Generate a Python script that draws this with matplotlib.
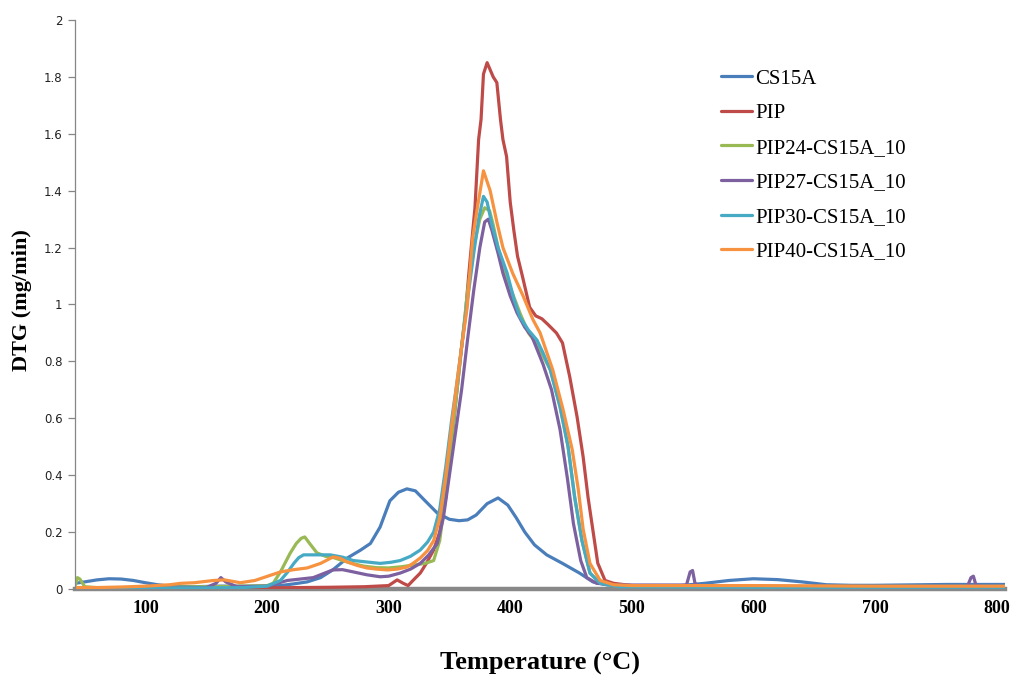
import matplotlib
matplotlib.use("Agg")
import matplotlib.pyplot as plt

# DTG curves (temperature in °C, DTG in mg/min)
cs15a_t = [42, 50, 60, 70, 80, 90, 100, 110, 120, 140, 160, 180, 200, 211, 222, 233, 244, 254, 266,
           277, 285, 293, 301, 308, 315, 322, 330, 340, 350, 358, 365, 372, 381, 390, 398, 405, 412,
           420, 430, 443, 457, 468, 480, 490, 500, 520, 540, 560, 580, 600, 620, 640, 660, 680, 700,
           720, 740, 760, 780, 800, 807]
cs15a_v = [0.02, 0.025, 0.032, 0.036, 0.035, 0.03, 0.022, 0.015, 0.01, 0.008, 0.01, 0.01, 0.01, 0.012,
           0.018, 0.025, 0.04, 0.067, 0.109, 0.137, 0.16, 0.218, 0.31, 0.34, 0.352, 0.345, 0.31, 0.267,
           0.245, 0.24, 0.243, 0.26, 0.30, 0.32, 0.295, 0.25, 0.2, 0.155, 0.12, 0.09, 0.056, 0.025,
           0.014, 0.012, 0.012, 0.012, 0.012, 0.02, 0.03, 0.036, 0.033, 0.025, 0.015, 0.013, 0.013,
           0.014, 0.015, 0.016, 0.016, 0.016, 0.016]

pip_t = [42, 60, 100, 150, 200, 250, 280, 300, 307, 312, 316, 320, 326, 331, 337, 342, 347, 352, 356,
         360, 363, 366, 369, 371, 374, 376, 378, 381, 383, 386, 389, 392, 394, 397, 400, 403, 406, 410,
         416, 421, 426, 431, 438, 443, 449, 455, 460, 464, 468, 472, 478, 485, 500, 550, 600, 700, 807]
pip_v = [0.003, 0.003, 0.003, 0.005, 0.004, 0.006, 0.008, 0.012, 0.032, 0.02, 0.012, 0.03, 0.056, 0.09,
         0.137, 0.2, 0.32, 0.52, 0.69, 0.85, 0.96, 1.11, 1.25, 1.34, 1.58, 1.65, 1.81, 1.85, 1.83, 1.80,
         1.78, 1.65, 1.58, 1.52, 1.36, 1.26, 1.17, 1.10, 0.99, 0.96, 0.95, 0.93, 0.90, 0.865, 0.745,
         0.605, 0.464, 0.323, 0.207, 0.091, 0.03, 0.02, 0.012, 0.01, 0.008, 0.008, 0.008]

pip24_t = [42, 44, 46, 50, 60, 100, 150, 180, 200, 205, 211, 219, 224, 228, 231, 235, 241, 248, 255,
           262, 270, 280, 290, 300, 310, 320, 330, 337, 342, 346, 350, 355, 360, 365, 370, 375, 379,
           383, 386, 390, 395, 400, 408, 415, 422, 433, 441, 447.6, 453, 459, 465.6, 474, 485, 500,
           600, 700, 807]
pip24_v = [0.01, 0.04, 0.035, 0.008, 0.005, 0.005, 0.008, 0.01, 0.012, 0.02, 0.06, 0.126, 0.16, 0.178,
           0.183, 0.16, 0.127, 0.115, 0.11, 0.1, 0.09, 0.08, 0.075, 0.074, 0.078, 0.084, 0.09, 0.1,
           0.17, 0.3, 0.45, 0.65, 0.85, 1.05, 1.2, 1.3, 1.34, 1.33, 1.28, 1.2, 1.12, 1.06, 0.97, 0.9,
           0.86, 0.77, 0.64, 0.5, 0.323, 0.17, 0.056, 0.02, 0.012, 0.01, 0.008, 0.008, 0.008]

pip27_t = [42, 100, 150, 158, 162, 166, 175, 200, 216.7, 238, 254, 262, 271, 282, 293, 300, 309.5, 318,
           326, 333, 340, 345, 350, 355, 360, 365, 370, 375, 379, 382, 385, 390, 394, 400, 405.7, 412,
           418, 427, 434, 441, 447, 452, 458, 463, 471, 485, 500, 545, 548, 550, 552, 555, 600, 700,
           776, 779, 781, 783, 786, 807]
pip27_v = [0.003, 0.003, 0.005, 0.02, 0.04, 0.025, 0.008, 0.01, 0.03, 0.04, 0.067, 0.068, 0.06, 0.05,
           0.043, 0.045, 0.056, 0.07, 0.09, 0.12, 0.16, 0.25, 0.4, 0.55, 0.7, 0.88, 1.05, 1.2, 1.29, 1.30,
           1.26, 1.18, 1.11, 1.03, 0.97, 0.92, 0.886, 0.79, 0.70, 0.56, 0.39, 0.23, 0.10, 0.04, 0.02,
           0.015, 0.014, 0.014, 0.06, 0.065, 0.02, 0.012, 0.01, 0.008, 0.008, 0.04, 0.045, 0.015, 0.008,
           0.008]

pip30_t = [42, 100, 150, 180, 200, 211, 217, 222, 226, 230, 240, 252, 262, 271, 282, 293, 302, 309.5,
           318, 326, 332, 337, 342, 347, 352, 356, 360, 365, 370, 374, 378, 381, 385, 390, 397.5, 403,
           408, 415, 422, 427, 433, 441, 447.6, 453, 459, 465.6, 474, 490, 600, 807]
pip30_v = [0.003, 0.003, 0.004, 0.005, 0.01, 0.03, 0.06, 0.09, 0.11, 0.12, 0.12, 0.12, 0.112, 0.10,
           0.095, 0.09, 0.094, 0.10, 0.115, 0.137, 0.165, 0.2, 0.28, 0.43, 0.6, 0.72, 0.85, 1.02, 1.18,
           1.3, 1.38, 1.36, 1.28, 1.2, 1.11, 1.02, 0.956, 0.91, 0.875, 0.83, 0.77, 0.64, 0.5, 0.323, 0.17,
           0.056, 0.02, 0.008, 0.006, 0.006]

pip40_t = [42, 60, 80, 100, 120, 129, 140, 156, 165, 178, 190, 197, 204, 211, 222, 233, 244, 254.5,
           260, 266, 274, 282, 290, 299, 307, 315, 320, 326, 332, 337, 342, 347, 352, 356, 360, 364.6,
           369, 373, 378, 383.5, 389, 394, 402, 410.6, 418.8, 424.6, 427, 435, 443.5, 451, 456, 460,
           465.6, 474, 485, 500, 600, 700, 807]
pip40_v = [0.005, 0.005, 0.007, 0.01, 0.015, 0.02, 0.022, 0.03, 0.032, 0.022, 0.03, 0.04, 0.05, 0.06,
           0.068, 0.074, 0.09, 0.113, 0.108, 0.095, 0.083, 0.074, 0.07, 0.067, 0.07, 0.077, 0.09, 0.109,
           0.135, 0.17, 0.25, 0.4, 0.58, 0.72, 0.85, 0.99, 1.23, 1.34, 1.47, 1.40, 1.29, 1.20, 1.11,
           1.03, 0.946, 0.90, 0.87, 0.77, 0.63, 0.49, 0.35, 0.21, 0.09, 0.03, 0.015, 0.012, 0.012, 0.01,
           0.01]

series_names = ["CS15A", "PIP", "PIP24-CS15A_10", "PIP27-CS15A_10", "PIP30-CS15A_10", "PIP40-CS15A_10"]
series_t = [cs15a_t, pip_t, pip24_t, pip27_t, pip30_t, pip40_t]
series_v = [cs15a_v, pip_v, pip24_v, pip27_v, pip30_v, pip40_v]
colors = ["#4A7EBB", "#BE4B48", "#98B954", "#7D60A0", "#46AAC5", "#F69240"]

x_ticks = [100, 200, 300, 400, 500, 600, 700, 800]
y_ticks = [0, 0.2, 0.4, 0.6, 0.8, 1, 1.2, 1.4, 1.6, 1.8, 2]
y_tick_labels = ["0", "0.2", "0.4", "0.6", "0.8", "1", "1.2", "1.4", "1.6", "1.8", "2"]

W, H = 1013, 681
fig = plt.figure(figsize=(W / 100, H / 100), dpi=100)
ax = fig.add_axes([75 / W, 1 - 589 / H, (1005 - 75) / W, (589 - 20) / H])

for t, v, name, c in zip(series_t, series_v, series_names, colors):
    assert len(t) == len(v), name
    ax.plot(t, v, color=c, lw=2.3, label=name, solid_joinstyle="round", solid_capstyle="round")

ax.set_xlim(42, 807)
ax.set_ylim(0, 2)

for s in ("top", "right"):
    ax.spines[s].set_visible(False)
ax.spines["left"].set_color("#868686")
ax.spines["left"].set_linewidth(0.9)
ax.spines["bottom"].set_color("#888888")
ax.spines["bottom"].set_linewidth(3.2)
ax.spines["bottom"].set_zorder(1)

ax.set_xticks(x_ticks)
ax.set_xticklabels([str(x) for x in x_ticks], fontfamily="Liberation Serif",
                   fontweight="bold", fontsize=13)
ax.tick_params(axis="x", length=0, pad=8)
ax.set_yticks(y_ticks)
ax.set_yticklabels(y_tick_labels, fontfamily="DejaVu Sans", fontsize=8.5, color="#222222")
ax.tick_params(axis="y", length=5, width=0.9, color="#868686", pad=4, direction="out")

fig.text(540 / W, 1 - 663 / H, "Temperature (°C)", ha="center", va="center",
         fontfamily="Liberation Serif", fontweight="bold", fontsize=19)
fig.text(22 / W, 1 - 300 / H, "DTG (mg/min)", ha="center", va="center", rotation=90,
         fontfamily="Liberation Serif", fontweight="bold", fontsize=16)

leg = ax.legend(loc="upper left", bbox_to_anchor=(721 / W, 1 - 69 / H),
                bbox_transform=fig.transFigure, frameon=False,
                prop={"family": "Liberation Serif", "size": 15},
                handlelength=1.5, handletextpad=0.15, labelspacing=0.72,
                borderpad=0, borderaxespad=0)
for line in leg.get_lines():
    line.set_linewidth(2.3)

fig.savefig("out.png", dpi=100)
